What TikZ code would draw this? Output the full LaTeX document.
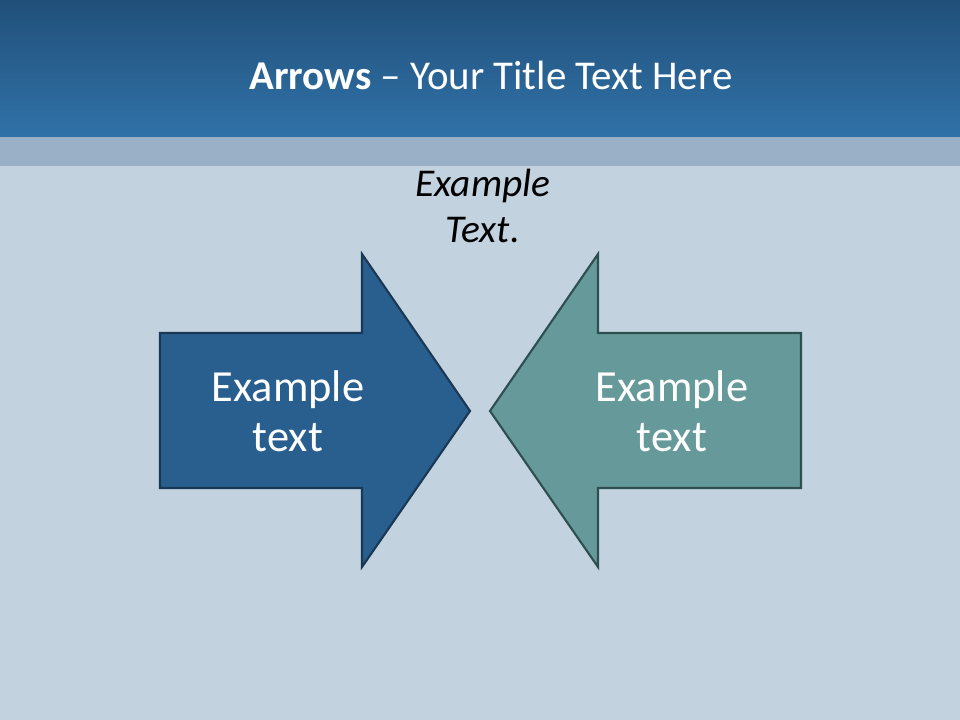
\documentclass[tikz,border=0pt]{standalone}
\usepackage{fontspec}
\setmainfont{Carlito}
\usepackage{tikz}
\usetikzlibrary{positioning}
\definecolor{bandtop}{RGB}{33,80,122}
\definecolor{bandbottom}{RGB}{48,114,168}
\definecolor{stripblue}{RGB}{154,176,199}
\definecolor{slatebg}{RGB}{194,210,223}
\definecolor{arrowblue}{RGB}{40,95,143}
\definecolor{arrowblueline}{RGB}{26,56,84}
\definecolor{arrowteal}{RGB}{102,154,154}
\definecolor{arrowtealline}{RGB}{46,79,80}

\begin{document}
\begin{tikzpicture}[x=0.025cm,y=-0.025cm,
    arrowshape/.style={line width=1.5pt,line join=miter},
    inlabel/.style={text=white,align=center,font=\fontsize{31.6}{35.6}\selectfont},
    note/.style={align=center,font=\fontsize{28}{32.7}\selectfont\itshape}]
  \useasboundingbox (0,0) rectangle (960,720);
  % background and title band
  \fill[slatebg] (0,0) rectangle (960,720);
  \shade[top color=bandtop,bottom color=bandbottom] (0,0) rectangle (960,137);
  \fill[stripblue] (0,137) rectangle (960,166);
  \node[text=white,font=\fontsize{29.1}{33}\selectfont] (title) at (491,75)
       {\textbf{Arrows} -- Your Title Text Here};
  % the two arrows
  \draw[arrowshape,fill=arrowblue,draw=arrowblueline]
       (160,333) -- (362,333) -- (362,254) -- (470,411) -- (362,567)
       -- (362,488) -- (160,488) -- cycle;
  \draw[arrowshape,fill=arrowteal,draw=arrowtealline]
       (801,333) -- (598,333) -- (598,254) -- (490,411) -- (598,567)
       -- (598,488) -- (801,488) -- cycle;
  \node[inlabel] (left) at (288,411) {Example\\text};
  \node[inlabel] (right) at (672,411) {Example\\text};
  \node[note] (note) at (483,206) {Example\\Text.};
\end{tikzpicture}
\end{document}
